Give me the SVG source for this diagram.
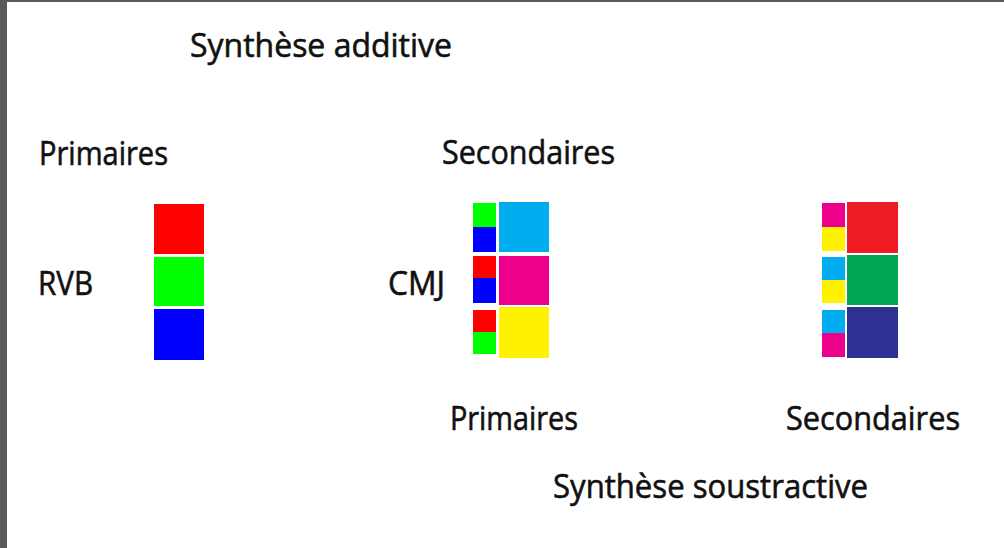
<svg xmlns="http://www.w3.org/2000/svg" width="1004" height="548" viewBox="0 0 1004 548">
  <style>
    .lbl { font-family: "Open Sans", "Liberation Sans", sans-serif; font-size: 33px; fill: #111111; stroke: #111111; stroke-width: 0.6px; }
  </style>
  <!-- frame -->
  <rect x="0" y="0" width="1004" height="548" fill="#5a5a5a"/>
  <rect x="7" y="2" width="997" height="546" fill="#ffffff"/>

  <!-- headings -->
  <g id="titles">
    <text class="lbl" x="190" y="57" textLength="262" lengthAdjust="spacingAndGlyphs">Synthèse additive</text>
    <text class="lbl" x="39" y="165" textLength="129" lengthAdjust="spacingAndGlyphs">Primaires</text>
    <text class="lbl" x="442" y="164" textLength="173" lengthAdjust="spacingAndGlyphs">Secondaires</text>
    <text class="lbl" x="38" y="295" textLength="55" lengthAdjust="spacingAndGlyphs">RVB</text>
    <text class="lbl" x="388" y="295" textLength="57" lengthAdjust="spacingAndGlyphs">CMJ</text>
    <text class="lbl" x="450" y="430" textLength="128" lengthAdjust="spacingAndGlyphs">Primaires</text>
    <text class="lbl" x="786" y="430" textLength="174" lengthAdjust="spacingAndGlyphs">Secondaires</text>
    <text class="lbl" x="553" y="498" textLength="315" lengthAdjust="spacingAndGlyphs">Synthèse soustractive</text>
  </g>

  <!-- additive primaries -->
  <g id="rvb">
    <rect x="154" y="204" width="50" height="50" fill="#ff0000"/>
    <rect x="154" y="257" width="50" height="49" fill="#00ff00"/>
    <rect x="154" y="309" width="50" height="51" fill="#0000ff"/>
  </g>

  <!-- additive secondaries = subtractive primaries -->
  <g id="cmj">
    <rect x="473" y="203" width="23" height="24" fill="#00ff00"/>
    <rect x="473" y="227" width="23" height="25" fill="#0000ff"/>
    <rect x="499" y="202" width="50" height="50" fill="#00aeef"/>
    <rect x="473" y="256" width="23" height="22" fill="#ff0000"/>
    <rect x="473" y="278" width="23" height="25" fill="#0000ff"/>
    <rect x="499" y="256" width="50" height="49" fill="#ec008c"/>
    <rect x="473" y="310" width="23" height="22" fill="#ff0000"/>
    <rect x="473" y="332" width="23" height="22" fill="#00ff00"/>
    <rect x="499" y="307" width="50" height="51" fill="#fff200"/>
  </g>

  <!-- subtractive secondaries -->
  <g id="soustractive">
    <rect x="822" y="203" width="23" height="24" fill="#ec008c"/>
    <rect x="822" y="227" width="23" height="24" fill="#fff200"/>
    <rect x="847" y="202" width="51" height="51" fill="#ed1c24"/>
    <rect x="822" y="257" width="23" height="23" fill="#00aeef"/>
    <rect x="822" y="280" width="23" height="23" fill="#fff200"/>
    <rect x="847" y="255" width="51" height="50" fill="#00a651"/>
    <rect x="822" y="310" width="23" height="23" fill="#00aeef"/>
    <rect x="822" y="333" width="23" height="24" fill="#ec008c"/>
    <rect x="847" y="307" width="51" height="51" fill="#2e3192"/>
  </g>
</svg>
